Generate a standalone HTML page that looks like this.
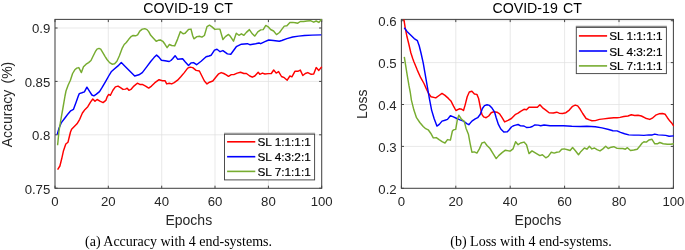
<!DOCTYPE html>
<html><head><meta charset="utf-8"><title>COVID-19 CT</title>
<style>html,body{margin:0;padding:0;background:#fff}svg{display:block;will-change:transform}</style></head>
<body>
<svg width="685" height="250" viewBox="0 0 685 250" font-family='"Liberation Sans", Arial, sans-serif'>
<rect width="685" height="250" fill="#fff"/>
<line x1="108.3" y1="19.4" x2="108.3" y2="188.3" stroke="#dfdfdf" stroke-width="0.7"/>
<line x1="161.7" y1="19.4" x2="161.7" y2="188.3" stroke="#dfdfdf" stroke-width="0.7"/>
<line x1="215.0" y1="19.4" x2="215.0" y2="188.3" stroke="#dfdfdf" stroke-width="0.7"/>
<line x1="268.4" y1="19.4" x2="268.4" y2="188.3" stroke="#dfdfdf" stroke-width="0.7"/>
<line x1="55.0" y1="134.8" x2="321.7" y2="134.8" stroke="#dfdfdf" stroke-width="0.7"/>
<line x1="55.0" y1="81.4" x2="321.7" y2="81.4" stroke="#dfdfdf" stroke-width="0.7"/>
<line x1="55.0" y1="28.0" x2="321.7" y2="28.0" stroke="#dfdfdf" stroke-width="0.7"/>
<rect x="55.0" y="19.4" width="266.7" height="168.9" fill="none" stroke="#454545" stroke-width="1.05"/>
<line x1="55.0" y1="188.3" x2="55.0" y2="185.7" stroke="#454545" stroke-width="1"/>
<line x1="55.0" y1="19.4" x2="55.0" y2="22.1" stroke="#454545" stroke-width="1"/>
<text x="55.0" y="206.3" text-anchor="middle" font-size="13.2" fill="#262626">0</text>
<line x1="108.3" y1="188.3" x2="108.3" y2="185.7" stroke="#454545" stroke-width="1"/>
<line x1="108.3" y1="19.4" x2="108.3" y2="22.1" stroke="#454545" stroke-width="1"/>
<text x="108.3" y="206.3" text-anchor="middle" font-size="13.2" fill="#262626">20</text>
<line x1="161.7" y1="188.3" x2="161.7" y2="185.7" stroke="#454545" stroke-width="1"/>
<line x1="161.7" y1="19.4" x2="161.7" y2="22.1" stroke="#454545" stroke-width="1"/>
<text x="161.7" y="206.3" text-anchor="middle" font-size="13.2" fill="#262626">40</text>
<line x1="215.0" y1="188.3" x2="215.0" y2="185.7" stroke="#454545" stroke-width="1"/>
<line x1="215.0" y1="19.4" x2="215.0" y2="22.1" stroke="#454545" stroke-width="1"/>
<text x="215.0" y="206.3" text-anchor="middle" font-size="13.2" fill="#262626">60</text>
<line x1="268.4" y1="188.3" x2="268.4" y2="185.7" stroke="#454545" stroke-width="1"/>
<line x1="268.4" y1="19.4" x2="268.4" y2="22.1" stroke="#454545" stroke-width="1"/>
<text x="268.4" y="206.3" text-anchor="middle" font-size="13.2" fill="#262626">80</text>
<line x1="321.7" y1="188.3" x2="321.7" y2="185.7" stroke="#454545" stroke-width="1"/>
<line x1="321.7" y1="19.4" x2="321.7" y2="22.1" stroke="#454545" stroke-width="1"/>
<text x="321.7" y="206.3" text-anchor="middle" font-size="13.2" fill="#262626">100</text>
<line x1="55.0" y1="188.2" x2="57.6" y2="188.2" stroke="#454545" stroke-width="1"/>
<line x1="321.7" y1="188.2" x2="319.1" y2="188.2" stroke="#454545" stroke-width="1"/>
<text x="50.3" y="193.6" text-anchor="end" font-size="13.2" fill="#262626">0.75</text>
<line x1="55.0" y1="134.8" x2="57.6" y2="134.8" stroke="#454545" stroke-width="1"/>
<line x1="321.7" y1="134.8" x2="319.1" y2="134.8" stroke="#454545" stroke-width="1"/>
<text x="50.3" y="140.2" text-anchor="end" font-size="13.2" fill="#262626">0.8</text>
<line x1="55.0" y1="81.4" x2="57.6" y2="81.4" stroke="#454545" stroke-width="1"/>
<line x1="321.7" y1="81.4" x2="319.1" y2="81.4" stroke="#454545" stroke-width="1"/>
<text x="50.3" y="86.8" text-anchor="end" font-size="13.2" fill="#262626">0.85</text>
<line x1="55.0" y1="28.0" x2="57.6" y2="28.0" stroke="#454545" stroke-width="1"/>
<line x1="321.7" y1="28.0" x2="319.1" y2="28.0" stroke="#454545" stroke-width="1"/>
<text x="50.3" y="33.4" text-anchor="end" font-size="13.2" fill="#262626">0.9</text>
<text x="188.8" y="225" text-anchor="middle" font-size="14" fill="#262626">Epochs</text>
<text transform="translate(12.3,104.5) rotate(-90)" text-anchor="middle" font-size="14" word-spacing="2.3" fill="#262626">Accuracy (%)</text>
<text x="188.0" y="13.1" text-anchor="middle" font-size="14.2" fill="#000" word-spacing="1.3">COVID-19 CT</text>
<clipPath id="cl"><rect x="55.0" y="18.8" width="267.5" height="169.5"/></clipPath>
<g clip-path="url(#cl)">
<polyline points="57.6,169.6 59.9,166.0 61.7,158.8 63.5,150.7 65.8,144.0 68.0,142.2 69.5,136.0 70.5,132.0 71.6,129.2 74.3,126.5 77.0,123.8 79.7,119.3 82.4,113.0 85.1,109.4 87.8,106.7 90.5,102.2 92.8,99.0 95.0,101.3 97.1,99.5 100.4,101.3 103.1,102.6 105.8,100.4 107.3,96.6 108.7,94.4 110.4,95.3 112.9,90.3 115.4,86.9 118.0,86.1 120.5,87.7 123.0,89.4 125.5,89.1 127.2,88.2 128.9,90.3 130.9,89.4 133.9,86.1 137.3,83.2 139.8,84.4 142.3,84.4 145.6,86.1 148.7,88.1 151.5,86.1 154.9,82.7 159.1,79.7 162.4,80.7 165.0,80.7 166.7,83.9 169.2,83.2 171.7,83.9 174.2,82.7 177.6,80.2 181.0,76.5 184.3,72.6 187.7,68.1 190.2,67.1 192.7,67.6 196.1,70.4 199.4,71.0 201.9,76.0 204.4,81.0 207.0,83.9 209.5,82.2 212.8,81.0 216.2,76.8 218.7,73.8 221.2,72.6 223.8,73.5 226.3,74.8 228.5,76.3 231.3,74.6 233.8,74.6 237.2,73.1 240.5,72.3 243.9,73.5 246.4,73.5 249.8,76.0 252.3,77.2 254.8,76.0 258.2,72.3 259.8,74.3 262.4,73.1 264.9,74.0 268.2,73.6 271.3,73.5 273.7,70.0 276.2,73.1 278.6,71.6 281.5,76.5 284.3,77.7 287.2,80.2 289.9,76.0 291.9,76.8 294.9,71.3 297.8,71.3 300.3,70.1 302.8,75.5 305.3,73.5 307.8,72.6 311.2,74.3 313.7,74.0 316.2,67.6 318.8,70.4 321.8,66.8" fill="none" stroke="#ff0000" stroke-width="1.45" stroke-linejoin="round" stroke-linecap="butt"/>
<polyline points="57.2,134.5 59.0,128.3 61.2,122.9 65.3,117.5 68.0,113.9 70.7,110.8 73.4,109.4 76.1,102.2 78.3,96.0 79.3,93.6 81.9,92.8 84.4,91.9 86.9,87.2 89.4,91.1 91.9,95.0 93.9,95.8 96.1,94.4 99.5,91.6 102.0,87.7 105.4,81.9 108.7,76.0 111.2,71.8 114.6,68.8 118.0,65.9 121.3,62.6 124.7,65.9 129.7,70.9 134.7,76.0 138.9,74.8 142.3,72.6 146.5,67.1 150.7,61.5 154.0,57.6 156.6,55.1 158.9,57.1 161.4,60.3 165.0,60.8 169.2,61.5 170.9,60.5 172.6,58.7 175.1,55.7 177.6,59.2 182.6,58.7 185.1,61.8 188.5,65.4 191.0,62.9 193.5,62.6 196.6,64.7 201.1,61.2 206.1,56.8 209.0,56.0 211.2,55.2 214.5,50.1 217.0,49.2 220.1,51.7 222.9,50.6 227.4,53.9 230.8,54.3 236.3,46.7 241.4,44.2 247.3,43.7 249.8,44.7 255.6,43.7 259.0,43.0 260.7,43.7 264.9,41.7 268.7,40.0 273.4,40.5 279.3,41.2 281.8,40.5 286.9,38.6 292.7,37.0 298.6,36.1 304.5,35.5 312.0,35.1 321.3,34.9" fill="none" stroke="#0000ff" stroke-width="1.45" stroke-linejoin="round" stroke-linecap="butt"/>
<polyline points="57.6,145.3 59.0,131.0 60.8,120.2 63.2,106.5 65.0,96.0 66.0,91.0 68.1,85.2 70.4,80.2 72.6,73.5 74.8,69.8 76.8,68.1 78.8,67.6 81.4,72.6 83.5,66.8 86.1,64.2 88.6,62.6 91.0,60.5 92.8,56.8 95.3,51.7 97.0,49.2 99.0,48.4 100.7,49.2 102.8,52.6 105.0,56.3 107.0,59.5 109.6,62.6 112.1,64.2 114.6,63.7 116.9,61.2 119.3,56.0 122.1,48.4 124.2,44.5 126.3,42.5 128.9,39.1 131.4,36.3 133.1,35.5 135.6,35.8 137.6,34.9 139.8,31.1 142.3,29.1 144.8,28.7 147.0,29.6 148.7,31.6 150.7,35.3 153.2,38.0 156.2,41.3 158.2,40.3 160.4,40.0 162.8,41.3 165.0,44.3 167.1,47.7 169.4,44.5 171.7,45.5 174.7,45.9 177.6,39.1 180.4,31.6 183.1,33.8 185.1,33.3 188.5,29.4 191.0,29.1 192.7,35.8 193.9,38.8 196.9,36.6 199.4,36.3 201.9,37.1 204.4,35.5 207.0,26.6 209.5,25.2 212.0,26.9 214.9,29.4 217.4,29.1 219.9,29.1 222.9,39.5 225.4,36.6 228.5,34.4 230.5,36.6 233.5,41.2 236.3,33.3 238.9,35.3 241.4,33.8 243.9,35.3 246.4,32.4 249.4,29.6 252.3,33.8 254.8,36.1 257.8,31.9 260.7,29.9 263.2,29.6 265.8,25.4 268.2,26.8 270.6,29.5 273.6,31.0 276.5,34.6 279.5,32.5 281.8,29.4 284.3,26.1 286.9,25.7 289.9,22.4 292.7,22.4 295.3,22.7 297.8,23.2 300.3,21.5 303.6,21.5 307.0,21.0 310.4,20.7 313.7,22.2 316.2,21.0 318.8,22.4 321.7,19.3" fill="none" stroke="#77ac30" stroke-width="1.45" stroke-linejoin="round" stroke-linecap="butt"/>
</g>
<rect x="224.5" y="134.2" width="90.1" height="45.7" fill="#fff" stroke="#454545" stroke-width="0.95"/>
<line x1="224.0" y1="133.2" x2="315.1" y2="133.2" stroke="#8e8e8e" stroke-width="1.1"/>
<line x1="227.1" y1="141.8" x2="255.3" y2="141.8" stroke="#ff0000" stroke-width="1.6"/>
<text x="257.4" y="146.3" font-size="11.8" fill="#000" stroke="#000" stroke-width="0.18">SL 1:1:1:1</text>
<line x1="227.1" y1="156.7" x2="255.3" y2="156.7" stroke="#0000ff" stroke-width="1.6"/>
<text x="257.4" y="161.2" font-size="11.8" fill="#000" stroke="#000" stroke-width="0.18">SL 4:3:2:1</text>
<line x1="227.1" y1="171.4" x2="255.3" y2="171.4" stroke="#77ac30" stroke-width="1.6"/>
<text x="257.4" y="175.9" font-size="11.8" fill="#000" stroke="#000" stroke-width="0.18">SL 7:1:1:1</text>
<line x1="455.8" y1="19.4" x2="455.8" y2="188.3" stroke="#dfdfdf" stroke-width="0.7"/>
<line x1="510.2" y1="19.4" x2="510.2" y2="188.3" stroke="#dfdfdf" stroke-width="0.7"/>
<line x1="564.6" y1="19.4" x2="564.6" y2="188.3" stroke="#dfdfdf" stroke-width="0.7"/>
<line x1="619.0" y1="19.4" x2="619.0" y2="188.3" stroke="#dfdfdf" stroke-width="0.7"/>
<line x1="401.4" y1="146.4" x2="673.4" y2="146.4" stroke="#dfdfdf" stroke-width="0.7"/>
<line x1="401.4" y1="104.5" x2="673.4" y2="104.5" stroke="#dfdfdf" stroke-width="0.7"/>
<line x1="401.4" y1="62.6" x2="673.4" y2="62.6" stroke="#dfdfdf" stroke-width="0.7"/>
<line x1="401.4" y1="20.7" x2="673.4" y2="20.7" stroke="#dfdfdf" stroke-width="0.7"/>
<rect x="401.4" y="19.4" width="272.0" height="168.9" fill="none" stroke="#454545" stroke-width="1.05"/>
<line x1="401.4" y1="188.3" x2="401.4" y2="185.7" stroke="#454545" stroke-width="1"/>
<line x1="401.4" y1="19.4" x2="401.4" y2="22.1" stroke="#454545" stroke-width="1"/>
<text x="401.4" y="206.3" text-anchor="middle" font-size="13.2" fill="#262626">0</text>
<line x1="455.8" y1="188.3" x2="455.8" y2="185.7" stroke="#454545" stroke-width="1"/>
<line x1="455.8" y1="19.4" x2="455.8" y2="22.1" stroke="#454545" stroke-width="1"/>
<text x="455.8" y="206.3" text-anchor="middle" font-size="13.2" fill="#262626">20</text>
<line x1="510.2" y1="188.3" x2="510.2" y2="185.7" stroke="#454545" stroke-width="1"/>
<line x1="510.2" y1="19.4" x2="510.2" y2="22.1" stroke="#454545" stroke-width="1"/>
<text x="510.2" y="206.3" text-anchor="middle" font-size="13.2" fill="#262626">40</text>
<line x1="564.6" y1="188.3" x2="564.6" y2="185.7" stroke="#454545" stroke-width="1"/>
<line x1="564.6" y1="19.4" x2="564.6" y2="22.1" stroke="#454545" stroke-width="1"/>
<text x="564.6" y="206.3" text-anchor="middle" font-size="13.2" fill="#262626">60</text>
<line x1="619.0" y1="188.3" x2="619.0" y2="185.7" stroke="#454545" stroke-width="1"/>
<line x1="619.0" y1="19.4" x2="619.0" y2="22.1" stroke="#454545" stroke-width="1"/>
<text x="619.0" y="206.3" text-anchor="middle" font-size="13.2" fill="#262626">80</text>
<line x1="673.4" y1="188.3" x2="673.4" y2="185.7" stroke="#454545" stroke-width="1"/>
<line x1="673.4" y1="19.4" x2="673.4" y2="22.1" stroke="#454545" stroke-width="1"/>
<text x="673.4" y="206.3" text-anchor="middle" font-size="13.2" fill="#262626">100</text>
<line x1="401.4" y1="188.3" x2="404.0" y2="188.3" stroke="#454545" stroke-width="1"/>
<line x1="673.4" y1="188.3" x2="670.8" y2="188.3" stroke="#454545" stroke-width="1"/>
<text x="396.7" y="193.7" text-anchor="end" font-size="13.2" fill="#262626">0.2</text>
<line x1="401.4" y1="146.4" x2="404.0" y2="146.4" stroke="#454545" stroke-width="1"/>
<line x1="673.4" y1="146.4" x2="670.8" y2="146.4" stroke="#454545" stroke-width="1"/>
<text x="396.7" y="151.8" text-anchor="end" font-size="13.2" fill="#262626">0.3</text>
<line x1="401.4" y1="104.5" x2="404.0" y2="104.5" stroke="#454545" stroke-width="1"/>
<line x1="673.4" y1="104.5" x2="670.8" y2="104.5" stroke="#454545" stroke-width="1"/>
<text x="396.7" y="109.9" text-anchor="end" font-size="13.2" fill="#262626">0.4</text>
<line x1="401.4" y1="62.6" x2="404.0" y2="62.6" stroke="#454545" stroke-width="1"/>
<line x1="673.4" y1="62.6" x2="670.8" y2="62.6" stroke="#454545" stroke-width="1"/>
<text x="396.7" y="68.0" text-anchor="end" font-size="13.2" fill="#262626">0.5</text>
<line x1="401.4" y1="20.7" x2="404.0" y2="20.7" stroke="#454545" stroke-width="1"/>
<line x1="673.4" y1="20.7" x2="670.8" y2="20.7" stroke="#454545" stroke-width="1"/>
<text x="396.7" y="26.1" text-anchor="end" font-size="13.2" fill="#262626">0.6</text>
<text x="537.9" y="225" text-anchor="middle" font-size="14" fill="#262626">Epochs</text>
<text transform="translate(366.6,104.2) rotate(-90)" text-anchor="middle" font-size="14" word-spacing="2.3" fill="#262626">Loss</text>
<text x="537.2" y="13.1" text-anchor="middle" font-size="14.2" fill="#000" word-spacing="1.3">COVID-19 CT</text>
<clipPath id="cr"><rect x="401.4" y="18.8" width="272.8" height="169.5"/></clipPath>
<g clip-path="url(#cr)">
<polyline points="403.9,19.3 405.2,27.8 407.0,36.8 408.8,44.0 410.9,53.0 412.7,58.4 413.9,61.7 417.3,70.1 420.7,77.7 424.0,83.5 426.5,89.3 428.6,93.5 431.0,96.8 435.8,97.9 439.1,95.5 442.0,93.4 445.0,95.4 448.4,98.4 450.9,100.9 453.4,105.9 455.9,110.5 459.3,108.8 461.8,109.3 463.5,110.5 465.1,105.1 467.2,96.7 469.3,92.0 471.9,91.3 474.4,94.0 476.9,94.4 478.6,98.5 480.6,108.5 481.9,114.3 483.6,116.9 486.1,117.7 488.7,116.0 491.2,112.7 493.7,111.8 497.0,112.2 499.6,113.8 502.1,117.7 504.6,121.9 508.0,120.4 511.4,118.5 515.6,114.3 518.1,113.2 520.6,111.3 524.0,109.3 526.5,109.8 529.0,107.3 532.3,107.1 537.4,107.3 539.9,104.8 542.4,107.6 545.8,110.1 549.1,112.7 553.3,113.0 556.7,112.2 559.2,113.2 562.6,113.5 565.9,112.7 569.3,110.1 572.6,106.3 575.2,105.1 577.7,105.9 580.2,109.3 582.7,113.5 586.1,118.5 589.4,119.9 591.9,120.7 595.3,120.6 599.5,119.4 603.7,118.9 608.7,118.2 613.8,117.7 617.1,117.7 620.1,117.4 623.8,116.5 628.0,116.0 631.3,114.8 634.7,115.5 638.0,115.2 641.4,116.0 645.6,118.2 649.8,119.4 652.3,118.2 655.7,115.2 659.0,113.8 662.4,113.5 665.2,114.3 667.4,117.7 669.9,121.1 672.1,123.6 673.8,126.1" fill="none" stroke="#ff0000" stroke-width="1.45" stroke-linejoin="round" stroke-linecap="butt"/>
<polyline points="404.3,27.8 407.0,31.4 410.6,35.0 414.2,38.6 417.4,40.7 419.2,45.8 421.0,53.0 423.2,62.8 424.9,72.6 426.5,81.9 428.0,90.5 429.3,98.2 431.6,110.1 434.1,118.5 436.9,126.1 439.3,124.4 442.0,121.1 445.0,120.2 447.5,119.4 450.4,115.7 453.4,116.9 456.8,118.5 460.1,119.9 463.5,121.1 466.8,123.6 468.8,124.7 471.9,121.1 475.2,118.9 477.7,117.7 480.3,114.3 482.4,108.5 484.5,105.6 487.0,104.8 489.5,105.4 492.0,108.1 494.5,111.8 496.2,117.7 498.4,124.4 500.8,129.0 503.8,132.0 507.1,131.9 509.0,130.0 511.4,127.0 513.0,126.0 514.7,125.4 518.1,124.5 520.6,125.9 524.0,126.0 526.5,127.5 529.8,127.4 532.3,126.5 534.9,124.9 538.2,125.1 540.7,125.7 544.1,125.0 550.0,125.7 556.7,125.7 563.4,125.7 571.8,126.2 580.2,126.5 586.9,126.2 595.3,126.7 602.0,127.9 608.7,129.5 612.9,130.7 617.1,130.9 620.5,132.4 624.6,133.8 628.8,134.9 633.8,135.1 638.9,135.1 643.9,135.4 648.9,134.9 652.3,134.9 654.8,134.1 658.2,134.9 662.4,135.1 665.7,135.4 669.1,136.3 673.8,135.9" fill="none" stroke="#0000ff" stroke-width="1.45" stroke-linejoin="round" stroke-linecap="butt"/>
<polyline points="404.3,56.9 405.6,65.1 407.2,75.1 408.9,85.2 410.3,92.5 411.4,100.1 413.9,110.1 416.5,117.7 419.8,122.5 423.2,126.5 425.7,128.7 428.2,129.8 430.7,133.2 433.3,137.9 436.3,137.6 439.1,139.6 442.5,141.8 445.0,143.0 447.5,139.6 450.4,140.1 452.4,131.0 453.6,129.9 455.7,129.4 457.4,119.5 458.8,115.2 461.0,118.5 462.6,120.2 464.3,121.3 466.0,128.2 468.5,134.6 470.2,143.8 471.9,152.2 474.4,151.9 476.9,153.1 479.4,148.9 481.9,143.0 484.5,142.1 487.0,145.5 490.0,148.5 492.8,153.1 496.2,158.6 498.7,155.6 502.1,152.6 505.4,150.2 508.8,150.9 510.5,150.9 513.0,148.9 515.6,141.8 518.1,144.7 520.6,143.0 524.0,142.1 526.5,144.7 529.0,153.6 532.0,150.9 535.7,153.1 539.9,155.6 542.4,154.7 545.8,157.8 548.3,156.4 551.3,152.2 554.2,153.1 556.7,152.2 559.2,151.9 561.7,149.2 564.2,148.9 567.6,149.7 570.1,150.5 572.6,147.5 575.2,150.5 578.5,154.7 581.0,151.4 584.4,148.0 586.9,149.2 589.4,146.3 591.9,148.9 594.5,148.0 597.0,149.7 600.0,150.9 602.9,148.9 605.7,146.3 608.2,148.5 611.2,147.2 613.8,146.7 617.1,148.4 620.5,148.5 622.9,148.5 625.4,149.2 627.4,147.7 630.5,150.5 633.8,150.0 637.2,149.2 639.7,146.3 642.2,143.0 643.9,141.8 646.4,142.1 648.9,140.0 652.0,139.3 654.8,143.8 657.3,143.8 659.8,142.5 663.2,143.8 667.4,144.3 670.8,144.3 673.8,143.8" fill="none" stroke="#77ac30" stroke-width="1.45" stroke-linejoin="round" stroke-linecap="butt"/>
</g>
<rect x="576.3" y="27.4" width="90.1" height="46.2" fill="#fff" stroke="#454545" stroke-width="0.95"/>
<line x1="575.8" y1="26.4" x2="666.9" y2="26.4" stroke="#8e8e8e" stroke-width="1.1"/>
<line x1="578.9" y1="35.9" x2="607.1" y2="35.9" stroke="#ff0000" stroke-width="1.6"/>
<text x="609.2" y="40.4" font-size="11.8" fill="#000" stroke="#000" stroke-width="0.18">SL 1:1:1:1</text>
<line x1="578.9" y1="51.0" x2="607.1" y2="51.0" stroke="#0000ff" stroke-width="1.6"/>
<text x="609.2" y="55.5" font-size="11.8" fill="#000" stroke="#000" stroke-width="0.18">SL 4:3:2:1</text>
<line x1="578.9" y1="65.9" x2="607.1" y2="65.9" stroke="#77ac30" stroke-width="1.6"/>
<text x="609.2" y="70.4" font-size="11.8" fill="#000" stroke="#000" stroke-width="0.18">SL 7:1:1:1</text>
<text x="178.5" y="245.7" text-anchor="middle" font-size="14" fill="#000" font-family='"Liberation Serif", "Times New Roman", serif'>(a) Accuracy with 4 end-systems.</text>
<text x="531" y="245.7" text-anchor="middle" font-size="14" fill="#000" font-family='"Liberation Serif", "Times New Roman", serif'>(b) Loss with 4 end-systems.</text>
</svg>
</body></html>
